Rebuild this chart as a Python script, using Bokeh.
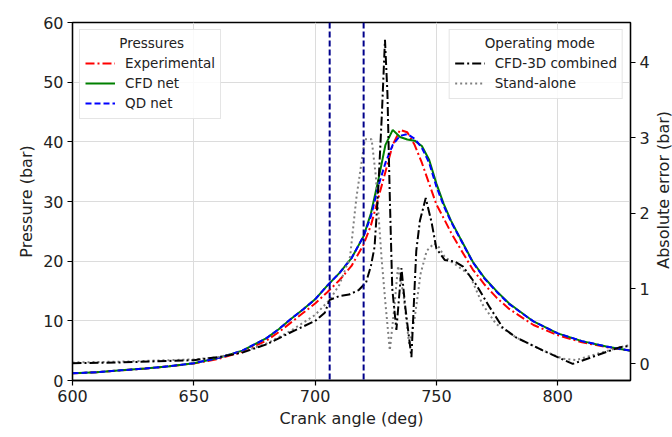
import math
from bokeh.plotting import figure
from bokeh.layouts import row
from bokeh.models import (Range1d, LinearAxis, FixedTicker, Legend, LegendItem, Span, Label)
from bokeh.embed import file_html
from bokeh.resources import INLINE

# ---------------- data ----------------
crank_p = [600, 610, 620, 630, 640, 650, 660, 670, 680, 685, 690, 695, 700, 705, 710, 715,
           720, 723, 726, 729, 732, 735, 738, 741, 744, 747, 750, 753, 756, 760, 765, 770,
           775, 780, 790, 800, 810, 820, 830]
p_exp = [1.2, 1.4, 1.7, 2.0, 2.4, 2.85, 3.6, 4.8, 6.7, 8.1, 9.7, 11.3, 12.9, 14.8, 16.8, 19.2,
         22.8, 26.0, 30.5, 35.0, 39.5, 42.0, 41.6, 39.5, 36.5, 33.0, 29.5, 27.2, 24.8, 22.0, 18.6, 16.0,
         13.8, 12.0, 9.3, 7.6, 6.4, 5.6, 5.0]
p_cfd = [1.2, 1.4, 1.7, 2.0, 2.4, 2.9, 3.75, 5.0, 7.1, 8.6, 10.3, 11.9, 13.6, 15.9, 18.0, 20.5,
         24.2, 28.0, 33.5, 39.5, 42.0, 40.8, 40.4, 40.2, 39.3, 37.0, 33.0, 29.6, 26.8, 23.7, 19.9, 17.1,
         14.9, 12.9, 9.9, 7.9, 6.6, 5.7, 5.0]
p_qd = [1.2, 1.4, 1.7, 2.0, 2.4, 2.9, 3.75, 5.0, 7.1, 8.6, 10.3, 11.9, 13.6, 15.9, 18.0, 20.5,
        24.2, 27.5, 32.5, 36.5, 39.5, 41.0, 41.3, 40.5, 39.0, 36.5, 32.5, 29.3, 26.6, 23.6, 19.8, 17.0,
        14.8, 12.8, 9.9, 7.9, 6.6, 5.7, 5.0]

crank_cfd3d = [600, 620, 640, 650, 660, 670, 680, 690, 700, 704, 706, 710, 714, 718, 721, 723,
               724.5, 726, 727.5, 728.8, 729.8, 730.8, 731.8, 733.5, 735.6, 737, 739.7, 741.7,
               743.2, 745.6, 748, 750, 753.4, 757.5, 761, 766.4, 772, 777.4, 782.9, 793.8,
               806.2, 815.8, 825.4, 830]
err_cfd3d = [0.01, 0.02, 0.04, 0.05, 0.09, 0.15, 0.26, 0.42, 0.57, 0.68, 0.85, 0.90, 0.92, 0.98, 1.08, 1.3,
             1.55, 2.3, 3.3, 4.3, 3.6, 2.2, 1.0, 0.45, 1.27, 0.8, 0.09, 1.5,
             1.9, 2.2, 1.88, 1.53, 1.38, 1.36, 1.29, 1.05, 0.75, 0.48, 0.35, 0.18,
             0.0, 0.11, 0.22, 0.24]

crank_sa = [600, 620, 640, 650, 660, 670, 680, 690, 700, 706, 710, 714.4, 717, 720.5, 723.3, 725,
            727.4, 729, 730.8, 732.5, 734.2, 736.5, 738.8, 741, 743.5, 746, 749, 751, 753.4,
            758.2, 763.7, 769, 774.6, 782.9, 793.8, 802, 807.5, 815.8, 827.8, 830]
err_sa = [0.02, 0.03, 0.05, 0.06, 0.09, 0.16, 0.27, 0.44, 0.65, 0.85, 1.05, 1.42, 2.2, 2.98, 2.98, 2.5,
          1.4, 0.8, 0.18, 0.7, 1.3, 0.9, 0.25, 0.6, 1.2, 1.5, 1.6, 1.55, 1.42,
          1.31, 1.18, 0.79, 0.53, 0.35, 0.18, 0.07, 0.05, 0.13, 0.24, 0.25]

marker_angles = [706, 720]

x_ticks = [600, 650, 700, 750, 800]
y_ticks = [0, 10, 20, 30, 40, 50, 60]
err_ticks = [0, 1, 2, 3, 4]

FONT = "DejaVu Sans"
NB = "\u00a0"
W, H = 654, 430
BL, BR, BT, BB = 72, 24, 22, 46

p = figure(width=W, height=H, output_backend="svg", toolbar_location=None,
           x_range=Range1d(600, 830), y_range=Range1d(0, 60),
           min_border_left=BL, min_border_right=BR, min_border_top=BT, min_border_bottom=BB)
p.extra_y_ranges = {"err": Range1d(-0.22, 4.53)}

p.background_fill_color = "white"
p.border_fill_color = "white"
p.outline_line_color = "black"
p.outline_line_width = 1.3
p.outline_line_alpha = 1

p.xgrid.grid_line_color = "#dcdcdc"
p.ygrid.grid_line_color = "#dcdcdc"
p.xgrid.ticker = FixedTicker(ticks=x_ticks)
p.ygrid.ticker = FixedTicker(ticks=y_ticks)

p.xaxis.ticker = FixedTicker(ticks=x_ticks)
p.yaxis.ticker = FixedTicker(ticks=y_ticks)
p.xaxis.axis_label = "Crank angle (deg)"
p.yaxis.axis_label = "Pressure (bar)"

err_axis = LinearAxis(y_range_name="err", ticker=FixedTicker(ticks=err_ticks))
p.add_layout(err_axis, "right")

for ax in [p.xaxis[0], p.yaxis[0], err_axis]:
    ax.axis_line_color = "black"
    ax.axis_line_width = 1.3
    ax.major_tick_out = 5
    ax.major_tick_in = 0
    ax.minor_tick_out = 0
    ax.minor_tick_in = 0
    ax.major_tick_line_color = "black"
    ax.major_tick_line_width = 1.2
    ax.major_label_text_font = FONT
    ax.major_label_text_font_size = "16px"
    ax.major_label_text_color = "#222222"
    ax.major_label_standoff = 4
    ax.axis_label_text_font = FONT
    ax.axis_label_text_font_size = "16px"
    ax.axis_label_text_font_style = "normal"
    ax.axis_label_text_color = "#222222"
    ax.axis_label_standoff = 4

# vertical markers
for a in marker_angles:
    p.add_layout(Span(location=a, dimension="height", line_color="#00008b",
                      line_dash="6 3", line_width=2))

# pressure curves
r_exp = p.line(crank_p, p_exp, line_color="red", line_width=2, line_dash="9 3 2 3")
r_cfd = p.line(crank_p, p_cfd, line_color="green", line_width=2)
r_qd = p.line(crank_p, p_qd, line_color="blue", line_width=2, line_dash="6 3")

# error curves
r_sa = p.line(crank_sa, err_sa, y_range_name="err", line_color="gray", line_width=2,
              line_dash="2 3")
r_c3 = p.line(crank_cfd3d, err_cfd3d, y_range_name="err", line_color="black", line_width=2,
              line_dash="9 3 2 3")

def make_legend(items, title, loc):
    lg = Legend(items=items, title=title, location=loc, margin=7, padding=5, spacing=0,
                glyph_width=30, glyph_height=20, label_height=20, label_standoff=10,
                label_text_font=FONT, label_text_font_size="13.5px", label_text_color="#222222",
                title_text_font=FONT, title_text_font_size="13.5px",
                title_text_font_style="normal", title_text_color="#222222", title_standoff=2,
                border_line_color="#cccccc", border_line_width=1,
                background_fill_color="white", background_fill_alpha=0.85)
    return lg

leg1 = make_legend([LegendItem(label="Experimental", renderers=[r_exp]),
                    LegendItem(label="CFD net", renderers=[r_cfd]),
                    LegendItem(label="QD net", renderers=[r_qd])],
                   NB * 8 + "Pressures", "top_left")
leg2 = make_legend([LegendItem(label="CFD-3D combined", renderers=[r_c3]),
                    LegendItem(label="Stand-alone", renderers=[r_sa])],
                   NB * 7 + "Operating mode", "top_right")
p.add_layout(leg1)
p.add_layout(leg2)

# narrow strip holding the right-axis title, reading bottom-to-top
side = figure(width=18, height=H, output_backend="svg", toolbar_location=None,
              x_range=Range1d(0, 1), y_range=Range1d(0, 1),
              x_axis_location=None, y_axis_location=None,
              min_border_left=0, min_border_right=0, min_border_top=0, min_border_bottom=0)
side.outline_line_color = None
side.grid.visible = False
side.background_fill_color = "white"
side.border_fill_color = "white"
side.add_layout(Label(x=0.5, y=1 - 201 / H, text="Absolute error (bar)",
                      angle=math.pi / 2, angle_units="rad",
                      text_align="center", text_baseline="middle", text_font=FONT,
                      text_font_size="16px", text_color="#222222"))

layout = row(p, side, spacing=0)
open("out.html", "w").write(file_html(layout, INLINE))
